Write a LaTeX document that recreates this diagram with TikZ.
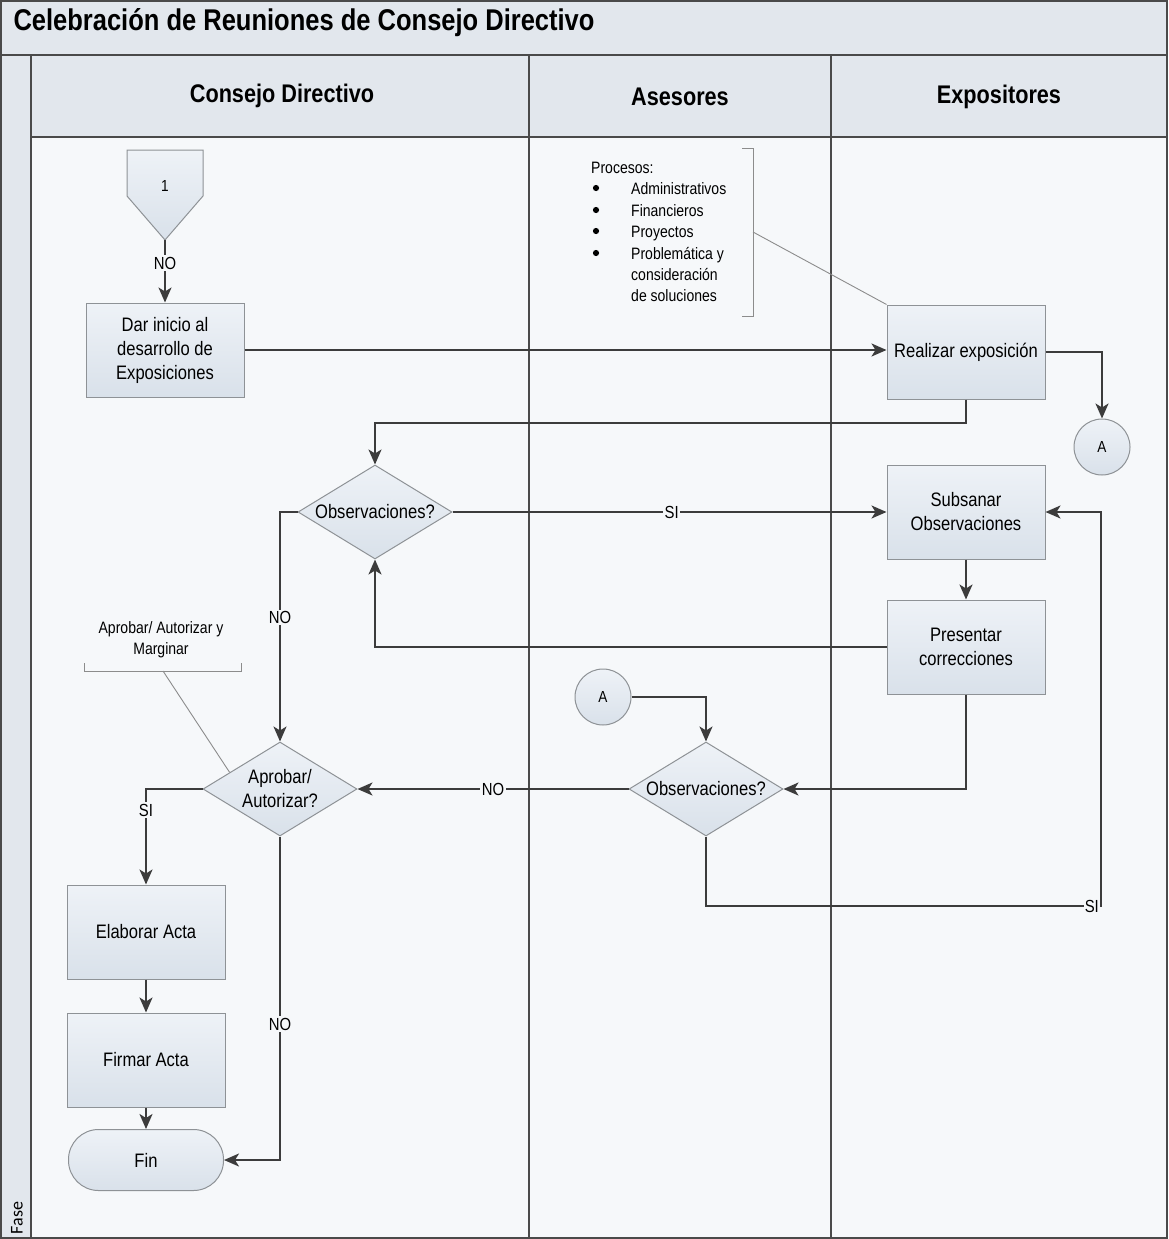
\documentclass[tikz,border=0pt]{standalone}
\usepackage{fontspec}
\setmainfont{Liberation Sans}[FakeStretch=0.85]
\newfontfamily\fasefont{Carlito}
\usetikzlibrary{shapes.geometric,arrows.meta,calc}

\definecolor{ink}{HTML}{3C3C3C}
\definecolor{laneline}{HTML}{4A4A4A}
\definecolor{boxline}{HTML}{8E9296}
\definecolor{boxtop}{HTML}{EEF2F7}
\definecolor{boxbot}{HTML}{D9E1EA}
\definecolor{headbg}{HTML}{E2E7ED}
\definecolor{bodybg}{HTML}{F6F8FA}
\definecolor{notegrey}{HTML}{8C8C8C}

\begin{document}
\begin{tikzpicture}[x=1pt,y=-1pt,
  proc/.style={draw=boxline, line width=1pt, top color=boxtop, bottom color=boxbot,
    minimum width=158pt, minimum height=94pt, inner sep=2pt, align=center,
    font=\fontsize{19.5}{24}\selectfont},
  dia/.style={diamond, draw=boxline, line width=1pt, top color=boxtop, bottom color=boxbot,
    minimum width=154pt, minimum height=94pt, inner sep=0pt},
  dtext/.style={align=center, font=\fontsize{19.5}{24}\selectfont},
  conn/.style={circle, draw=boxline, line width=1pt, top color=boxtop, bottom color=boxbot,
    minimum size=56pt, inner sep=0pt, font=\fontsize{16}{18}\selectfont},
  term/.style={draw=boxline, line width=1pt, top color=boxtop, bottom color=boxbot,
    rounded corners=30pt, minimum width=155pt, minimum height=61pt,
    font=\fontsize{19.5}{24}\selectfont},
  arr/.style={draw=ink, line width=2pt, -{Stealth[length=15pt,width=13pt,inset=4pt]}},
  lbl/.style={fill=bodybg, inner sep=1.5pt, font=\fontsize{17.5}{20}\selectfont},
  note/.style={draw=notegrey, line width=0.9pt},
  lane/.style={draw=laneline, line width=1.8pt},
  lanehead/.style={font=\bfseries\fontsize{25.5}{30}\selectfont},
  dot/.style={fill=black},
]
\useasboundingbox (0,0) rectangle (1168,1239);

% backgrounds
\fill[bodybg] (0,0) rectangle (1168,1239);
\fill[headbg] (0,0) rectangle (1168,137);
\fill[headbg] (0,137) rectangle (31,1239);

% frame, title band and swimlanes
\draw[lane] (0.9,0.9) rectangle (1167.1,1238.1);
\draw[lane] (0,55) -- (1168,55);
\draw[lane] (31,55) -- (31,1239);
\draw[lane] (31,137) -- (1168,137);
\draw[lane] (529,55) -- (529,1239);
\draw[lane] (831,55) -- (831,1239);

\node[anchor=west, font=\bfseries\fontsize{30}{34}\selectfont] (title) at (10,23) {Celebración de Reuniones de Consejo Directivo};
\node[lanehead] (hcd) at (282,96) {Consejo Directivo};
\node[lanehead] (has) at (680,97) {Asesores};
\node[lanehead] (hex) at (999,97) {Expositores};
\node[rotate=90, font=\fasefont\fontsize{18}{20}\selectfont] (fase) at (17,1218) {Fase};

% off-page connector
\draw[draw=boxline, line width=1pt, top color=boxtop, bottom color=boxbot]
  (127,150) -- (203,150) -- (203,196) -- (165,240) -- (127,196) -- cycle;
\node[font=\fontsize{16}{18}\selectfont] (one) at (165,186) {1};
\coordinate (optip) at (165,240);

% process steps
\node[proc] (dar) at (165,350) {Dar inicio al\\desarrollo de\\Exposiciones};
\node[proc] (real) at (966,352) {Realizar exposición};
\node[proc] (sub) at (966,512) {Subsanar\\Observaciones};
\node[proc] (pres) at (966,647) {Presentar\\correcciones};
\node[proc] (ela) at (146,932) {Elaborar Acta};
\node[proc] (fir) at (146,1060) {Firmar Acta};
\node[term] (fin) at (146,1160) {Fin};

\node[dia, label={[dtext]center:Observaciones?}] (d1) at (375,512) {};
\node[dia, label={[dtext]center:Observaciones?}] (d2) at (706,789) {};
\node[dia, label={[dtext]center:Aprobar/\\Autorizar?}] (apr) at (280,789) {};

\node[conn] (ca) at (1102,447) {A};
\node[conn] (cb) at (603,697) {A};

% annotations: list of processes
\node[anchor=north west, align=left, inner sep=0pt,
  font=\fontsize{16.5}{21.4}\selectfont] (procs) at (591,162)
  {Procesos:\\
   \hspace*{40pt}Administrativos\\
   \hspace*{40pt}Financieros\\
   \hspace*{40pt}Proyectos\\
   \hspace*{40pt}Problemática y\\
   \hspace*{40pt}consideración\\
   \hspace*{40pt}de soluciones};
\foreach \yy in {188,210,231,253} \fill[dot] (596,\yy) circle (3.1);
\draw[note] (742,148) -- (753,148) -- (753,316) -- (742,316);
\coordinate (procsanchor) at (753,232);
\draw[note] (procsanchor) -- (real.north west);

% annotation: approval note
\node[align=center, font=\fontsize{16.5}{21}\selectfont] (aprnote) at (161,640)
  {Aprobar/ Autorizar y\\Marginar};
\draw[note] (84,663) -- (84,671) -- (241,671) -- (241,663);
\coordinate (aprnoteanchor) at (163,671);
\draw[note] (aprnoteanchor) -- ($(apr.west)!0.35!(apr.north)$);

% connectors
\draw[arr] (optip) -- (dar.north) node[lbl, pos=0.37] {NO};
\draw[arr] (dar.east) -- (dar.east -| real.west);
\draw[arr] (real.east) -| (ca.north);
\draw[arr] (real.south) -- ++(0,23) -| (d1.north);
\draw[arr] (d1.east) -- (sub.west) node[lbl, pos=0.505] {SI};
\draw[arr] (sub.south) -- (pres.north);
\draw[arr] (pres.west) -| (d1.south);
\draw[arr] (pres.south) |- (d2.east);
\draw[arr] (cb.east) -| (d2.north);
\coordinate (sicorner) at (1101,906);
\draw[arr] (d2.south) |- (sicorner) |- (sub.east);
\node[lbl, anchor=east, inner sep=1pt] (silbl) at (1100,906) {SI};
\draw[arr] (d2.west) -- (apr.east) node[lbl, pos=0.5] {NO};
\draw[arr] (d1.west) -| (apr.north) node[lbl, pos=0.73] {NO};
\draw[arr] (apr.west) -| (ela.north) node[lbl, pos=0.61] {SI};
\draw[arr] (ela.south) -- (fir.north);
\draw[arr] (fir.south) -- (fin.north);
\draw[arr] (apr.south) |- (fin.east) node[lbl, pos=0.29] {NO};
\end{tikzpicture}
\end{document}
